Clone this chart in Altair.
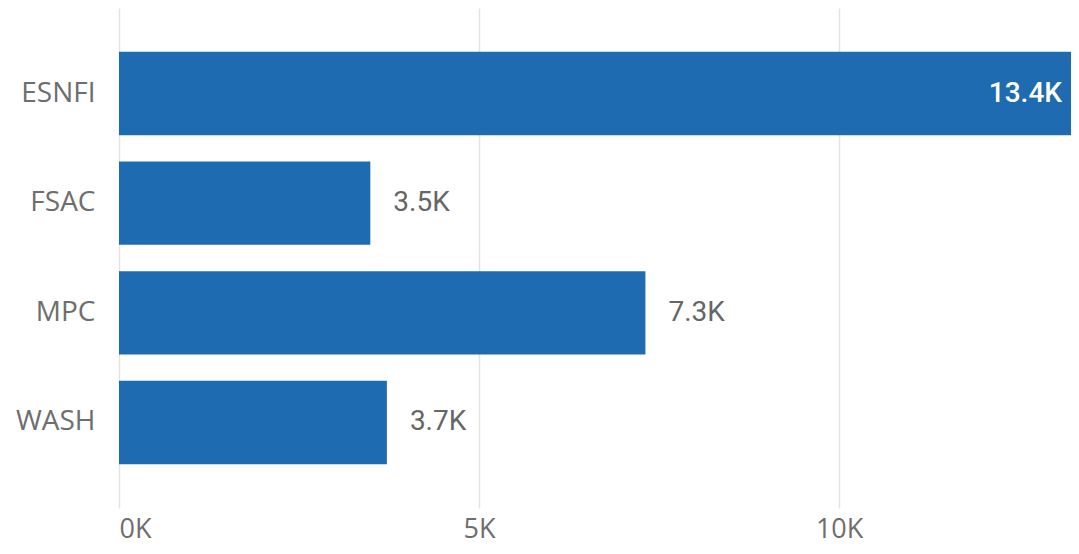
import altair as alt
import pandas as pd

categories = ["ESNFI", "FSAC", "MPC", "WASH"]
values = [13400, 3490, 7310, 3720]
tick_values = [0, 5000, 10000]

df = pd.DataFrame({"cluster": categories, "value": values})

x_scale = alt.Scale(domain=[0, 13220], nice=False, clamp=True)
y_enc = alt.Y(
    "cluster:N",
    sort=categories,
    scale=alt.Scale(paddingInner=0.24, paddingOuter=0.4),
    axis=alt.Axis(
        title=None, domain=False, ticks=False, labelPadding=24,
        labelFont="Open Sans", labelFontSize=28, labelColor="#6e6e6e",
        minExtent=111, maxExtent=111, grid=False,
    ),
)
x_enc = alt.X(
    "value:Q",
    scale=x_scale,
    axis=alt.Axis(
        title=None, domain=False, ticks=False, values=tick_values,
        labelExpr="datum.value / 1000 + 'K'", labelPadding=8,
        labelFont="Open Sans", labelFontSize=27, labelColor="#6e6e6e",
        gridColor="#e3e3e3", gridWidth=1.5, minExtent=38, maxExtent=38,
    ),
)

base = alt.Chart(df).transform_calculate(
    label="format(datum.value / 1000, '.1f') + 'K'"
)

bars = base.mark_bar(color="#1f6bb1").encode(x=x_enc, y=y_enc)

outside = base.transform_filter("datum.value < 10000").mark_text(
    align="left", baseline="middle", dx=23, font="Roboto", fontSize=28, color="#666666"
).encode(x=alt.X("value:Q", scale=x_scale), y=alt.Y("cluster:N", sort=categories), text="label:N")

inside = base.transform_filter("datum.value >= 10000").mark_text(
    align="right", baseline="middle", dx=-9, font="Roboto", fontSize=28, fontWeight=500, color="#ffffff"
).encode(x=alt.X("value:Q", scale=x_scale), y=alt.Y("cluster:N", sort=categories), text="label:N")

chart = (
    alt.layer(bars, outside, inside)
    .properties(width=952, height=500, padding={"left": 0, "top": 0, "right": 0, "bottom": 0})
    .configure_view(stroke=None)
)

chart.save("out.html", embed_options={"renderer": "svg", "actions": False})
